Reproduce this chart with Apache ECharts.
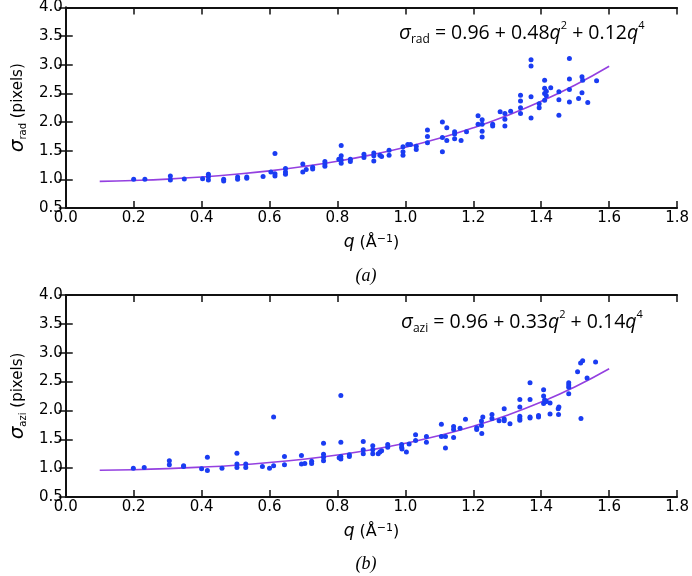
<!DOCTYPE html>
<html>
<head>
<meta charset="utf-8">
<script src="https://cdn.jsdelivr.net/npm/echarts@6/dist/echarts.min.js"></script>
<style>
html,body{margin:0;padding:0;background:#fff;}
#chart{width:692px;height:576px;}
</style>
</head>
<body>
<div id="chart"></div>
<script>
// ---- data ----
var xTicks = [0.0, 0.2, 0.4, 0.6, 0.8, 1.0, 1.2, 1.4, 1.6, 1.8];
var yTicks = [0.5, 1.0, 1.5, 2.0, 2.5, 3.0, 3.5, 4.0];

// panel (a): radial width
var qRad = [0.20,0.233,0.308,0.308,0.349,0.403,0.42,0.42,0.42,0.465,0.465,0.506,0.506,0.533,0.533,
  0.581,0.604,0.616,0.616,0.616,0.647,0.647,0.647,0.698,0.698,0.708,0.727,0.727,0.763,0.763,0.763,
  0.804,0.811,0.811,0.811,0.811,0.838,0.838,0.878,0.878,0.907,0.907,0.907,0.925,0.93,0.952,0.952,
  0.993,0.993,0.993,1.007,1.015,1.032,1.032,1.065,1.065,1.065,1.109,1.109,1.109,1.122,1.122,
  1.145,1.145,1.145,1.164,1.18,1.214,1.214,1.226,1.226,1.226,1.226,1.257,1.257,1.279,1.293,1.293,
  1.293,1.31,1.339,1.339,1.339,1.339,1.37,1.37,1.37,1.37,1.394,1.394,1.41,1.41,1.41,1.415,1.415,
  1.41,1.428,1.452,1.452,1.452,1.483,1.483,1.483,1.483,1.51,1.52,1.522,1.52,1.537,1.563];
var sigRad = [1.0,1.0,1.06,0.99,1.005,1.01,1.09,1.045,0.99,1.0,0.97,1.04,1.0,1.04,1.02,
  1.05,1.13,1.45,1.10,1.06,1.19,1.13,1.09,1.27,1.13,1.17,1.21,1.18,1.31,1.27,1.23,
  1.35,1.59,1.41,1.34,1.28,1.35,1.31,1.44,1.38,1.46,1.41,1.32,1.42,1.40,1.51,1.42,
  1.57,1.48,1.42,1.61,1.61,1.58,1.52,1.86,1.75,1.64,2.00,1.73,1.48,1.90,1.68,
  1.83,1.79,1.71,1.68,1.83,2.11,1.96,2.04,1.96,1.84,1.74,1.96,1.93,2.18,2.15,2.05,
  1.93,2.19,2.47,2.37,2.25,2.15,3.09,2.98,2.44,2.07,2.32,2.25,2.73,2.59,2.50,2.54,2.46,
  2.38,2.60,2.53,2.39,2.12,3.11,2.75,2.57,2.35,2.41,2.79,2.73,2.51,2.34,2.72];

// panel (b): azimuthal width
var qAzi = [0.199,0.231,0.305,0.305,0.347,0.347,0.40,0.417,0.417,0.46,0.504,0.504,0.504,0.53,0.53,
  0.579,0.60,0.612,0.612,0.644,0.644,0.694,0.694,0.704,0.724,0.724,0.759,0.759,0.759,0.759,
  0.81,0.81,0.81,0.81,0.805,0.835,0.835,0.876,0.876,0.876,0.904,0.904,0.904,0.92,0.925,0.93,
  0.948,0.948,0.989,0.989,0.99,1.003,1.011,1.03,1.03,1.062,1.062,1.106,1.106,1.118,1.118,
  1.142,1.142,1.142,1.161,1.177,1.21,1.21,1.224,1.224,1.225,1.228,1.255,1.255,1.276,1.291,1.291,
  1.291,1.308,1.337,1.337,1.337,1.337,1.337,1.367,1.367,1.367,1.367,1.392,1.392,1.407,1.407,
  1.41,1.413,1.407,1.415,1.426,1.426,1.45,1.452,1.451,1.481,1.481,1.481,1.481,1.507,1.516,
  1.522,1.517,1.535,1.56];
var sigAzi = [1.0,1.01,1.13,1.06,1.04,1.03,0.99,1.19,0.96,1.0,1.26,1.07,1.01,1.07,1.01,
  1.03,1.0,1.885,1.04,1.20,1.06,1.22,1.07,1.08,1.12,1.08,1.43,1.24,1.19,1.13,
  2.26,1.45,1.20,1.16,1.18,1.23,1.20,1.46,1.32,1.25,1.39,1.32,1.25,1.25,1.28,1.30,
  1.41,1.36,1.41,1.36,1.33,1.28,1.42,1.58,1.48,1.55,1.45,1.76,1.55,1.55,1.35,
  1.72,1.67,1.53,1.69,1.845,1.70,1.67,1.815,1.74,1.60,1.885,1.93,1.86,1.82,2.03,1.85,
  1.82,1.77,2.19,2.06,1.90,1.86,1.83,2.48,2.19,1.885,1.87,1.91,1.885,2.36,2.25,
  2.18,2.15,2.12,2.16,2.13,1.94,2.03,2.06,1.93,2.48,2.44,2.40,2.29,2.67,2.82,
  2.86,1.86,2.56,2.84];

// fitted curves
var curveQ   = [0.1,0.2,0.3,0.4,0.5,0.6,0.7,0.8,0.9,1.0,1.1,1.2,1.3,1.4,1.5,1.6];
var curveRad = [0.965,0.98,1.004,1.04,1.088,1.148,1.224,1.316,1.428,1.56,1.716,1.90,2.115,2.362,2.647,2.975];
var curveAzi = [0.963,0.973,0.991,1.017,1.051,1.097,1.155,1.229,1.319,1.43,1.564,1.726,1.918,2.145,2.411,2.722];

var eqRad = ['0.96', '0.48', '0.12'];
var eqAzi = ['0.96', '0.33', '0.14'];

// ---- build chart ----
function pairs(xs, ys){ var o=[]; for(var i=0;i<xs.length;i++) o.push([xs[i], ys[i]]); return o; }

var FONT = 'DejaVu Sans';
var PT_COLOR = '#1a3cf2';
var LINE_COLOR = '#9440e0';
var AX_LINE = {show:true, lineStyle:{color:'#111', width:2}};
var TICK = {show:true, inside:true, length:7, lineStyle:{color:'#111', width:1.5}};

function xAxes(gi){
  return [{
    gridIndex: gi, type:'value', min:xTicks[0], max:xTicks[xTicks.length-1], interval:0.2,
    position:'bottom', axisLine:AX_LINE, axisTick:TICK,
    axisLabel:{show:true, color:'#000', fontSize:15, fontFamily:FONT, margin:3,
      showMinLabel:true, showMaxLabel:true, formatter:function(v){return v.toFixed(1);}},
    splitLine:{show:false},
    name:'{q|q} (Å{sup|−1})', nameLocation:'middle', nameGap:26,
    nameTextStyle:{color:'#000', fontSize:16, fontFamily:FONT,
      rich:{q:{fontSize:17, fontStyle:'italic', fontFamily:FONT, color:'#000'},
            sup:{fontSize:11, fontFamily:FONT, verticalAlign:'top', color:'#000'}}}
  },{
    gridIndex: gi, type:'value', min:xTicks[0], max:xTicks[xTicks.length-1], interval:0.2,
    position:'top', axisLine:AX_LINE, axisTick:TICK,
    axisLabel:{show:false}, splitLine:{show:false}
  }];
}
function yAxes(gi, sub){
  return [{
    gridIndex: gi, type:'value', min:yTicks[0], max:yTicks[yTicks.length-1], interval:0.5,
    position:'left', axisLine:AX_LINE, axisTick:TICK,
    axisLabel:{show:true, color:'#000', fontSize:15, fontFamily:FONT, margin:3,
      showMinLabel:true, showMaxLabel:true, formatter:function(v){return v.toFixed(1);}},
    splitLine:{show:false},
    name:'{s|σ}{sub|' + sub + '} (pixels)', nameLocation:'middle', nameGap:35, nameRotate:90,
    nameTextStyle:{color:'#000', fontSize:15, fontFamily:FONT,
      rich:{s:{fontSize:20, fontStyle:'italic', fontFamily:FONT, color:'#000'},
            sub:{fontSize:10, fontFamily:FONT, verticalAlign:'bottom', color:'#000'}}}
  },{
    gridIndex: gi, type:'value', min:yTicks[0], max:yTicks[yTicks.length-1], interval:0.5,
    position:'right', axisLine:AX_LINE, axisTick:TICK,
    axisLabel:{show:false}, splitLine:{show:false}
  }];
}

function eqText(sub, c){
  return '{s|σ}{sub|' + sub + '}{n| = ' + c[0] + ' + ' + c[1] + '}{q|q}{sup|2}{n| + ' + c[2] + '}{q|q}{sup|4}';
}
var EQ_FONT = 'Open Sans';
var eqRich = {
  n:{fontSize:19.5, fontFamily:EQ_FONT, fill:'#000', lineHeight:26},
  s:{fontSize:20.5, fontFamily:EQ_FONT, fontStyle:'italic', fill:'#000', lineHeight:26},
  q:{fontSize:19.5, fontFamily:EQ_FONT, fontStyle:'italic', fill:'#000', lineHeight:26},
  sub:{fontSize:12, fontFamily:EQ_FONT, fill:'#000', verticalAlign:'bottom', lineHeight:26},
  sup:{fontSize:11, fontFamily:EQ_FONT, fill:'#000', verticalAlign:'top', lineHeight:26}
};

var chart = echarts.init(document.getElementById('chart'), null, {renderer:'canvas'});
chart.setOption({
  backgroundColor:'#fff',
  animation:false,
  grid:[
    {left:54, top:7, width:625, height:201, show:false},
    {left:54, top:295, width:625, height:202, show:false}
  ],
  xAxis: xAxes(0).concat(xAxes(1)),
  yAxis: yAxes(0,'rad').concat(yAxes(1,'azi')),
  series:[
    {type:'line', xAxisIndex:0, yAxisIndex:0, data:pairs(curveQ, curveRad), smooth:true,
      showSymbol:false, lineStyle:{color:LINE_COLOR, width:1.6}, z:2},
    {type:'scatter', xAxisIndex:0, yAxisIndex:0, data:pairs(qRad, sigRad), symbolSize:5,
      itemStyle:{color:PT_COLOR, opacity:1}, z:3},
    {type:'line', xAxisIndex:2, yAxisIndex:2, data:pairs(curveQ, curveAzi), smooth:true,
      showSymbol:false, lineStyle:{color:LINE_COLOR, width:1.6}, z:2},
    {type:'scatter', xAxisIndex:2, yAxisIndex:2, data:pairs(qAzi, sigAzi), symbolSize:5,
      itemStyle:{color:PT_COLOR, opacity:1}, z:3}
  ],
  graphic:[
    {type:'text', x:399, y:33, style:{text:eqText('rad', eqRad), rich:eqRich, verticalAlign:'middle', align:'left'}},
    {type:'text', x:401, y:322, style:{text:eqText('azi', eqAzi), rich:eqRich, verticalAlign:'middle', align:'left'}},
    {type:'text', x:366, y:276, style:{text:'(a)', fontSize:18, fontFamily:'Liberation Serif', fontStyle:'italic', fill:'#000', align:'center', verticalAlign:'middle'}},
    {type:'text', x:366, y:564, style:{text:'(b)', fontSize:18, fontFamily:'Liberation Serif', fontStyle:'italic', fill:'#000', align:'center', verticalAlign:'middle'}}
  ]
});
</script>
</body>
</html>
